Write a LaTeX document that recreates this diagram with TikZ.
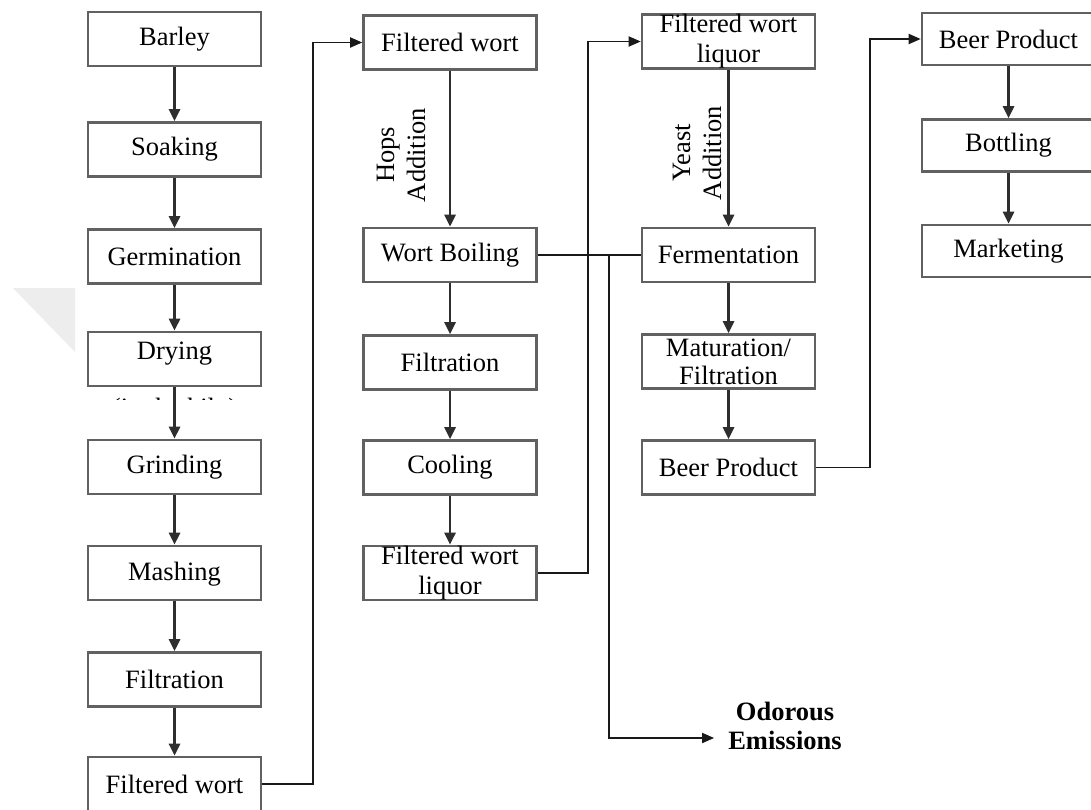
\documentclass[tikz,border=0pt]{standalone}
\usepackage{fontspec}
\setmainfont{Liberation Serif}
\usetikzlibrary{arrows.meta}
\tikzset{
  stepbox/.style={draw=black!62, line width=2.6pt, minimum width=173pt,
    minimum height=54pt, inner sep=0pt, align=center,
    font=\fontsize{26.5}{30}\selectfont},
  flow/.style={draw=black!82, line width=2.6pt,
    -{Triangle[length=12pt,width=11pt]}},
  link/.style={draw=black!90, line width=1.8pt},
  linkarrow/.style={link, -{Triangle[length=12pt,width=10pt]}},
  note/.style={font=\fontsize{26.5}{31}\selectfont, align=center, rotate=90,
    inner sep=0pt},
}
\begin{document}
\begin{tikzpicture}[x=1pt,y=-1pt]
\clip (0,0) rectangle (1091,810);
\fill[white] (0,0) rectangle (1091,810);
% faint watermark corner
\fill[black!7] (13,288) -- (75,288) -- (75,352) -- cycle;

% malting and mashing
\node[stepbox] (barley) at (174.5,39)    {Barley};
\node[stepbox] (soak)   at (174.5,149.5) {Soaking};
\node[stepbox] (germ)   at (174.5,256.5) {Germination};
\node[stepbox, text depth=16pt] (dry) at (174.5,359) {Drying};
\node[stepbox] (grind)  at (174.5,467)   {Grinding};
\node[stepbox, text depth=3pt] (mash) at (174.5,573) {Mashing};
\node[stepbox] (filt1)  at (174.5,679.5) {Filtration};
\node[stepbox] (fw1)    at (174.5,784)   {Filtered wort};
\begin{scope}
  \clip (90,395) rectangle (260,399.5);
  \node[font=\fontsize{26.5}{30}\selectfont, anchor=base, inner sep=0pt]
    (drynote) at (174.5,416) {(in the kiln)};
\end{scope}

% boiling
\node[stepbox] (fw2)   at (450,42.5)  {Filtered wort};
\node[stepbox] (boil)  at (450,255)   {Wort Boiling};
\node[stepbox] (filt2) at (450,362.5) {Filtration};
\node[stepbox] (cool)  at (450,467.5) {Cooling};
\node[stepbox] (fwl2)  at (450,573)   {Filtered wort\\liquor};

% fermentation
\node[stepbox] (fwl3) at (728.5,41.5)  {Filtered wort\\liquor};
\node[stepbox] (ferm) at (728.5,255)   {Fermentation};
\node[stepbox, font=\fontsize{26.5}{28}\selectfont] (mat) at (728.5,361.5)
  {Maturation/\\Filtration};
\node[stepbox] (bp3)  at (728.5,467.5) {Beer Product};

% packaging
\node[stepbox, minimum height=52pt] (bp4)    at (1008.5,39)    {Beer Product};
\node[stepbox, minimum height=52pt] (bottle) at (1008.5,145.5) {Bottling};
\node[stepbox, minimum height=52pt] (market) at (1008.5,251)   {Marketing};

% side labels
\node[note] (hops)  at (401,155) {Hops\\Addition};
\node[note] (yeast) at (697,153) {Yeast\\Addition};
\node[font=\bfseries\fontsize{26.5}{29}\selectfont, align=center,
  inner xsep=14pt, inner ysep=0pt] (odor) at (785,726) {Odorous\\Emissions};

% vertical flow
\foreach \a/\b in {barley/soak, soak/germ, germ/dry, dry/grind, grind/mash,
    mash/filt1, filt1/fw1, fw2/boil, boil/filt2, filt2/cool, cool/fwl2,
    fwl3/ferm, ferm/mat, mat/bp3, bp4/bottle, bottle/market}
  \draw[flow] (\a.south) -- (\b.north);

% column links
\coordinate (c12) at (313,0);
\coordinate (c23) at (588,0);
\coordinate (c34) at (870,0);
\draw[linkarrow] (fw1.east) -- (fw1.east -| c12) -- (fw2.west -| c12) -- (fw2.west);
\draw[linkarrow] (fwl2.east) -- (fwl2.east -| c23) -- (fwl3.west -| c23) -- (fwl3.west);
\draw[linkarrow] (bp3.east) -- (bp3.east -| c34) -- (bp4.west -| c34) -- (bp4.west);

% emissions branch
\draw[link] (boil.east) -- (ferm.west);
\coordinate (em) at (609,255);
\draw[linkarrow] (em) |- ([yshift=-12pt]odor.west);
\end{tikzpicture}
\end{document}
